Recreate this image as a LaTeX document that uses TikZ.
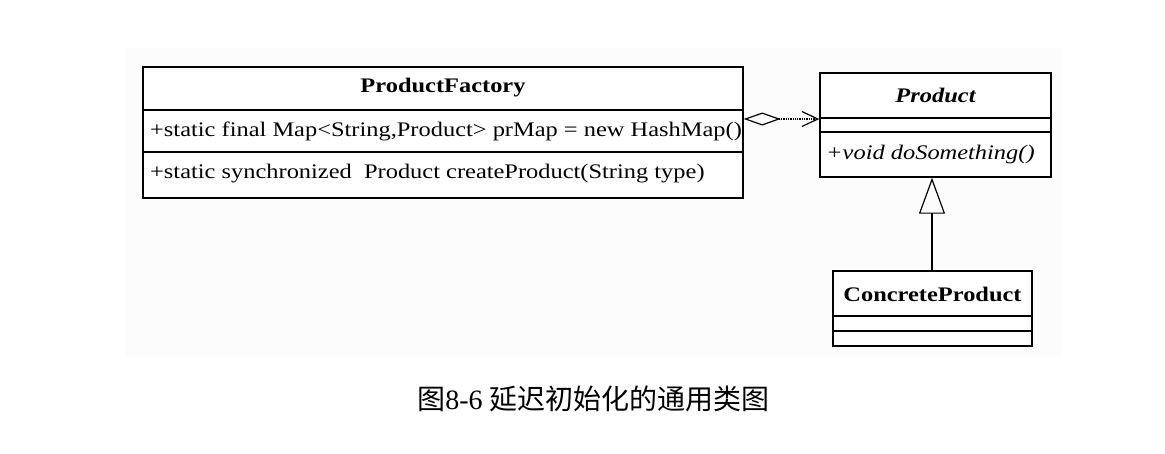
\documentclass[tikz,border=0pt]{standalone}
\usepackage{fontspec}
\setmainfont{Liberation Serif}
\newfontfamily\umlfont{Liberation Serif}[FakeStretch=1.18]
\newfontfamily\cjk{Noto Sans CJK SC}
\usetikzlibrary{arrows.meta,calc}
\begin{document}
\begin{tikzpicture}[x=1pt,y=-1pt,
  classbox/.style={draw=black,line width=1.4pt,fill=white,rectangle,inner sep=0pt},
  divider/.style={draw=black,line width=1.4pt},
  umltext/.style={font=\umlfont\fontsize{20.7}{24}\selectfont,inner sep=0pt},
  agg/.style={densely dotted,line width=1.3pt,
    {Diamond[open,length=37pt,width=13pt,line width=1.2pt]}-{Straight Barb[length=16pt,width=15pt,line width=1.2pt]}},
  inherit/.style={line width=1.3pt,-{Triangle[open,length=36pt,width=26pt,line width=1.2pt]}}]
\useasboundingbox (0,0) rectangle (1165,453);
\fill[black!1] (125,48) rectangle (1062,357);
% ProductFactory
\node[classbox,minimum width=600pt,minimum height=131pt] (pf) at (443,132.5) {};
\draw[divider] (pf.west |- 0,110) -- (pf.east |- 0,110);
\draw[divider] (pf.west |- 0,152) -- (pf.east |- 0,152);
\node[umltext,font=\umlfont\bfseries\fontsize{20.7}{24}\selectfont] (pft) at (443,88) {ProductFactory};
\node[umltext,anchor=west] (pfa) at (150,131) {+static final Map<String,Product> prMap = new HashMap()};
\node[umltext,anchor=west] (pfm) at (150,174) {+static synchronized\ \ Product createProduct(String type)};
% Product
\node[classbox,minimum width=231pt,minimum height=104pt] (prod) at (935.5,125) {};
\draw[divider] (prod.west |- 0,118) -- (prod.east |- 0,118);
\draw[divider] (prod.west |- 0,132) -- (prod.east |- 0,132);
\node[umltext,font=\umlfont\bfseries\itshape\fontsize{20.7}{24}\selectfont] (prodt) at (935.5,95) {Product};
\node[umltext,anchor=west,font=\umlfont\itshape\fontsize{20.7}{24}\selectfont] (prodm) at (826,155) {+void doSomething()};
% ConcreteProduct
\node[classbox,minimum width=199pt,minimum height=75pt] (cp) at (932.5,308.5) {};
\draw[divider] (cp.west |- 0,316) -- (cp.east |- 0,316);
\draw[divider] (cp.west |- 0,331) -- (cp.east |- 0,331);
\node[umltext,font=\umlfont\bfseries\fontsize{20.7}{24}\selectfont] (cpt) at (932.5,294) {ConcreteProduct};
% connectors
\coordinate (aggend) at (prod.west |- 0,119);
\draw[agg] (pf.east |- aggend) -- (aggend);
\draw[inherit] (cp.north -| 932,0) -- (prod.south -| 932,0);
% caption
\node[inner sep=0pt] (cap) at (593.5,399) {\cjk\fontsize{28}{30}\selectfont 图\rmfamily 8-6 \cjk 延迟初始化的通用类图};
\end{tikzpicture}
\end{document}
